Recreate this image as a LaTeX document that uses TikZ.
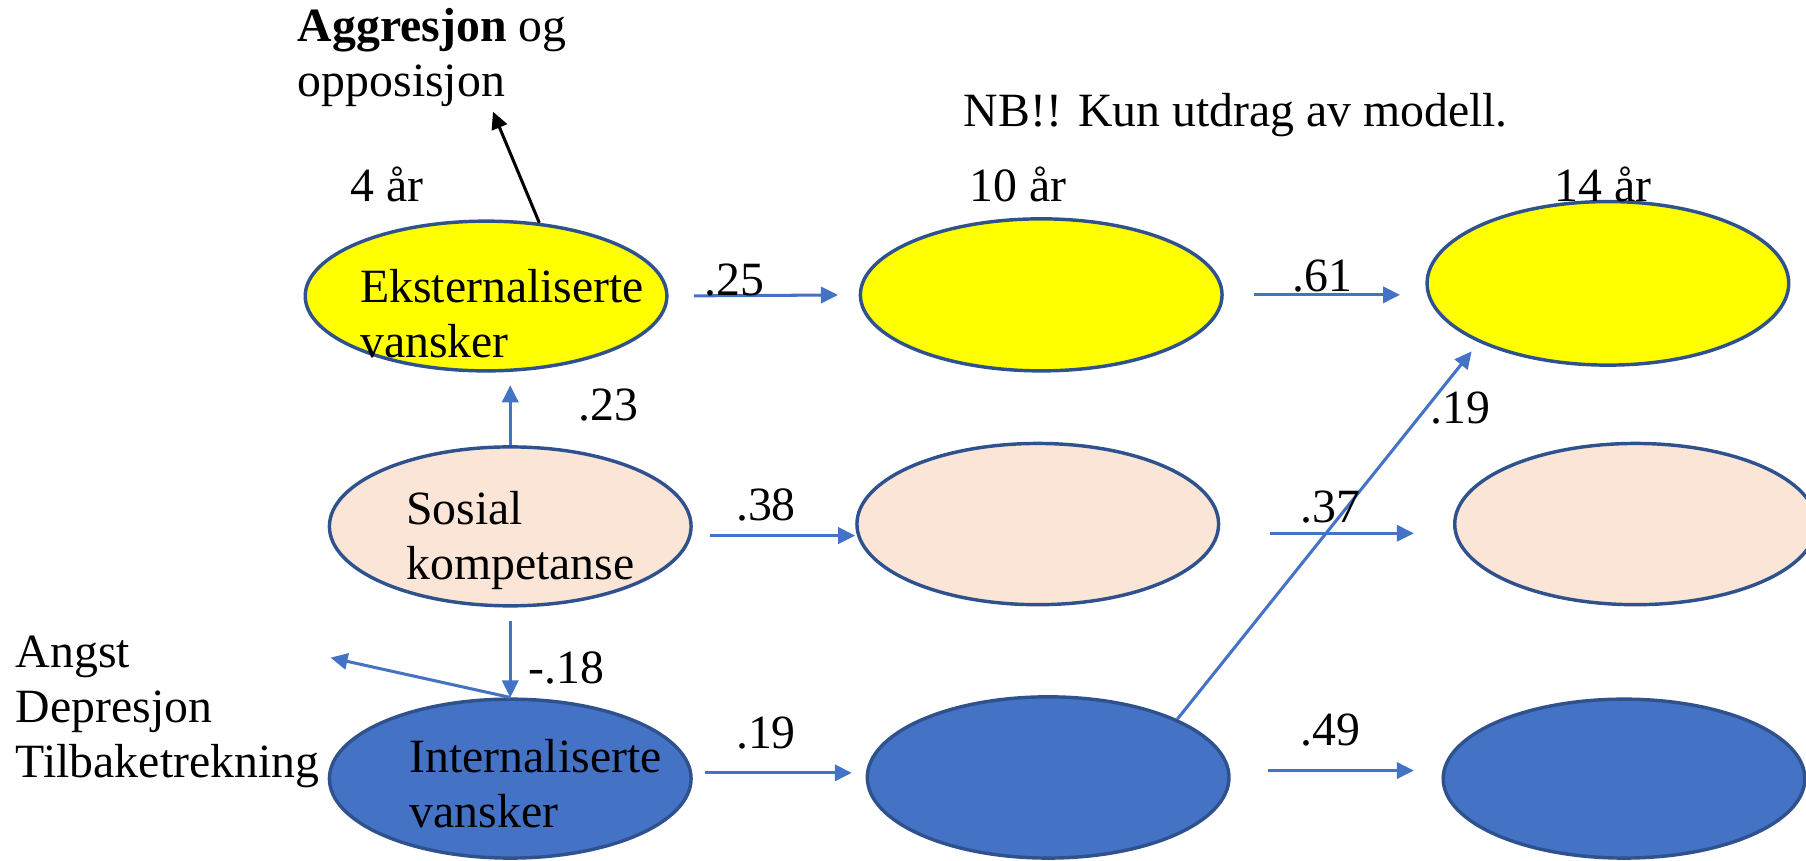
\documentclass[tikz,border=0pt]{standalone}
\usepackage{fontspec}
\setmainfont{Liberation Serif}
\usetikzlibrary{shapes.geometric,arrows.meta}
\definecolor{gul}{HTML}{FFFF00}
\definecolor{fersken}{HTML}{FBE5D6}
\definecolor{blaa}{HTML}{4472C4}
\definecolor{kant}{HTML}{2F528F}

\begin{document}
\begin{tikzpicture}[scale=1,
		font=\fontsize{11.8}{13.6}\selectfont,
		latent/.style={ellipse, draw=kant, line width=0.85pt, minimum width=3.14cm, minimum height=1.38cm, inner sep=0pt},
		pil/.style={draw=blaa, line width=0.75pt, -{Triangle[length=4.2pt,width=4pt]}},
		sortpil/.style={draw=black, line width=0.75pt, -{Triangle[length=4.2pt,width=4pt]}},
		tekst/.style={align=left, inner sep=0pt, anchor=west}]
		\useasboundingbox (0,0) rectangle (15.68,7.47);

		%draw ellipses
		\node[latent, fill=gul, minimum height=1.30cm] (ext4) at (4.22,4.90) {};
		\node[latent, fill=gul, minimum height=1.32cm] (ext10) at (9.04,4.91) {};
		\node[latent, fill=gul, minimum height=1.42cm] (ext14) at (13.96,5.01) {};
		\node[latent, fill=fersken] (sos4) at (4.43,2.90) {};
		\node[latent, fill=fersken, minimum height=1.40cm] (sos10) at (9.01,2.92) {};
		\node[latent, fill=fersken, minimum height=1.40cm] (sos14) at (14.20,2.92) {};
		\node[latent, fill=blaa] (int4) at (4.43,0.71) {};
		\node[latent, fill=blaa, minimum height=1.40cm] (int10) at (9.10,0.72) {};
		\node[latent, fill=blaa] (int14) at (14.10,0.71) {};

		%text in ellipses
		\node[tekst] (ext4txt) at (3.12,4.75) {Eksternaliserte\\vansker};
		\node[tekst] (sos4txt) at (3.52,2.78) {Sosial\\kompetanse};
		\node[tekst] (int4txt) at (3.55,0.67) {Internaliserte\\vansker};

		%years & notes
		\node (aar4) at (3.36,5.87) {4 år};
		\node (aar10) at (8.84,5.87) {10 år};
		\node (aar14) at (13.92,5.87) {14 år};
		\node (nb) at (10.73,6.47) {NB!! Kun utdrag av modell.};
		\node[tekst] (agg) at (2.58,6.97) {\textbf{Aggresjon} og\\opposisjon};
		\node[tekst] (angst) at (0.13,1.29) {Angst\\Depresjon\\Tilbaketrekning};

		%arrows to the side
		\coordinate (aggpil) at (4.28,6.50);
		\coordinate (angstpil) at (2.87,1.76);
		\draw[sortpil] (ext4.54) -- (aggpil);
		\draw[pil] (int4.north) -- (angstpil);

		%horizontal arrows
		\draw[pil, shorten <=0.22cm, shorten >=0.18cm] (ext4.east) -- (ext10.west);
		\draw[pil, shorten <=0.26cm, shorten >=0.22cm] (ext10.east) -- (ext10.east -| ext14.west);
		\draw[pil, shorten <=0.15cm] ([yshift=-0.08cm]sos4.east) -- ([yshift=-0.08cm]sos4.east -| sos10.west);
		\draw[pil, shorten <=0.43cm, shorten >=0.34cm] ([yshift=-0.08cm]sos10.east) -- ([yshift=-0.08cm]sos10.east -| sos14.west);
		\draw[pil, shorten <=0.11cm, shorten >=0.12cm] ([yshift=0.05cm]int4.east) -- ([yshift=0.05cm]int4.east -| int10.west);
		\draw[pil, shorten <=0.32cm, shorten >=0.24cm] ([yshift=0.06cm]int10.east) -- ([yshift=0.06cm]int10.east -| int14.west);

		%vertical and cross arrows
		\draw[pil, shorten >=0.11cm] (sos4.north) -- (sos4.north |- ext4.south);
		\draw[pil, shorten <=0.12cm] (sos4.south) -- (int4.north);
		\draw[pil, shorten >=0.10cm] (int10.north east) -- (ext14.south west);

		%coefficients
		\node (k25) at (6.38,5.04) {.25};
		\node (k61) at (11.48,5.07) {.61};
		\node (k23) at (5.28,3.95) {.23};
		\node (k38) at (6.65,3.09) {.38};
		\node (k37) at (11.55,3.07) {.37};
		\node (k18) at (4.92,1.67) {-.18};
		\node (k19) at (6.65,1.11) {.19};
		\node (k49) at (11.55,1.13) {.49};
		\node (k19x) at (12.68,3.93) {.19};
\end{tikzpicture}
\end{document}
